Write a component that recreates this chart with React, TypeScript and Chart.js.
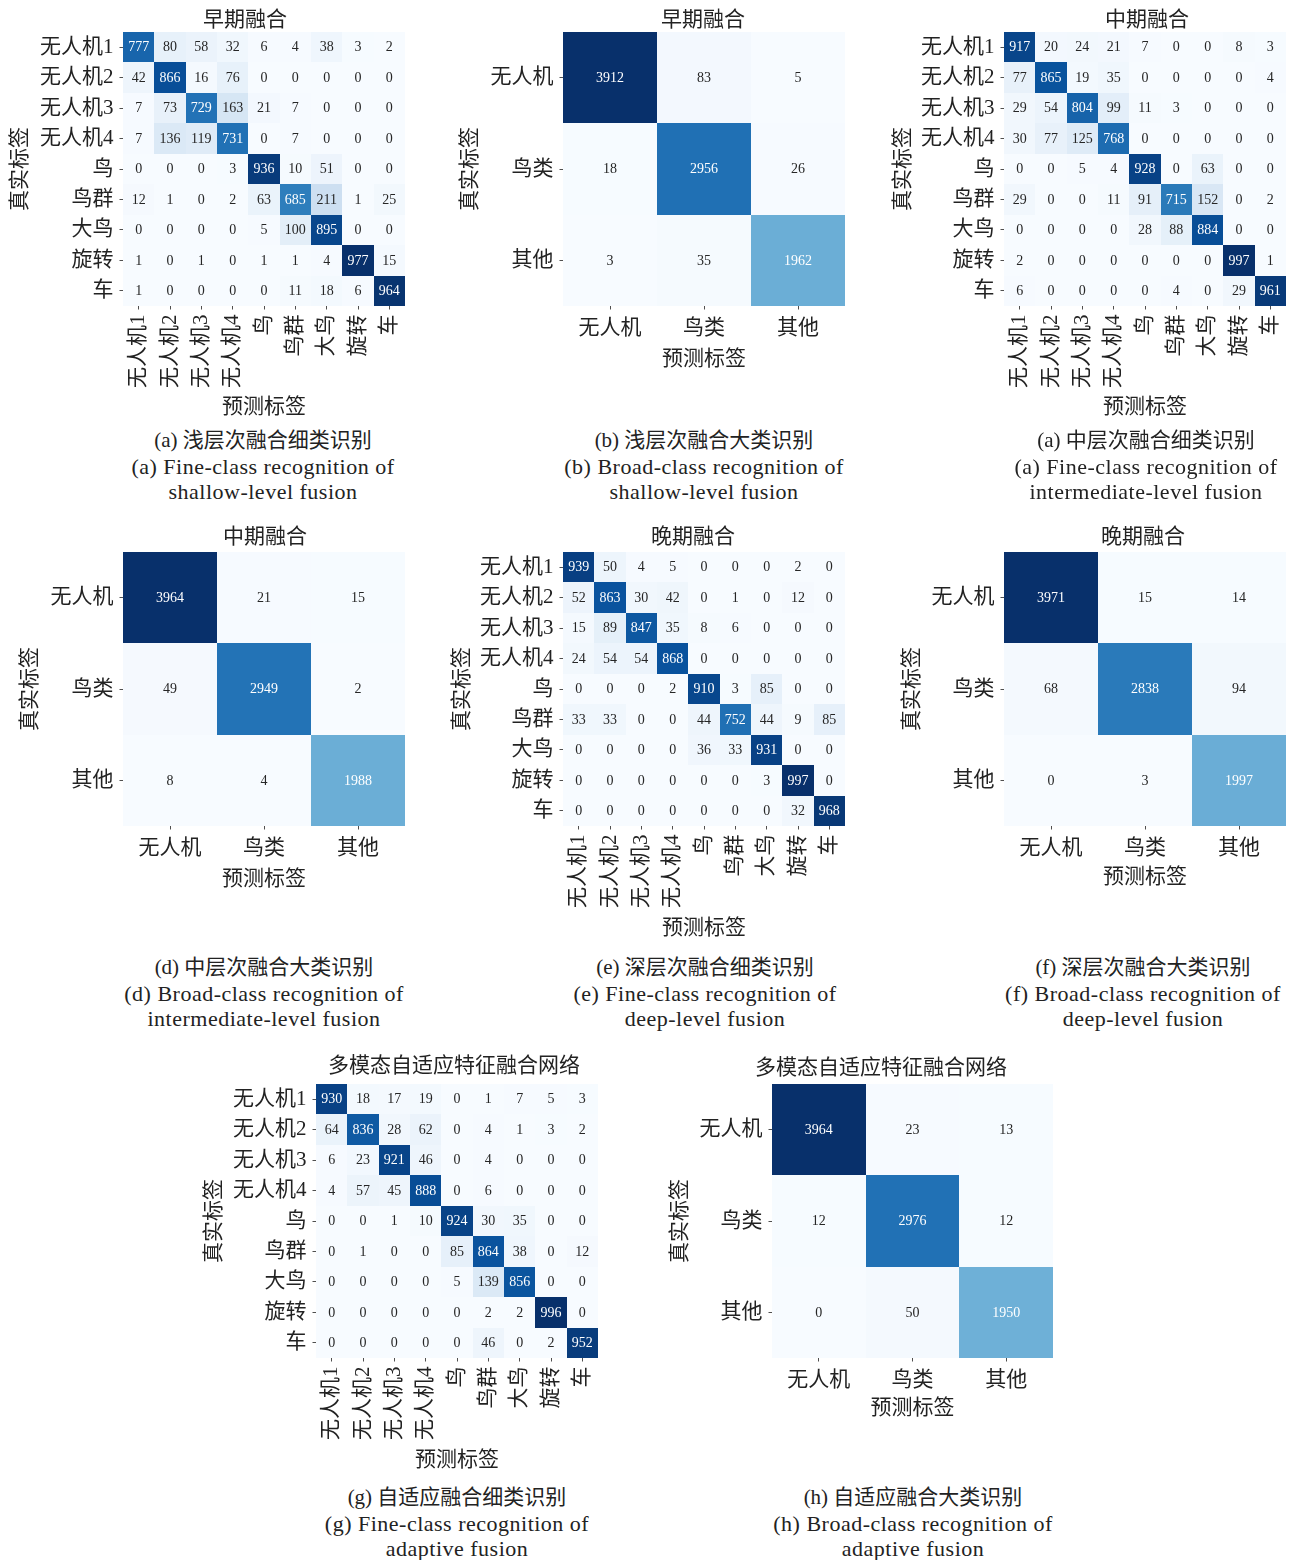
import React, { useEffect, useRef } from 'react';
import { Chart, registerables } from 'chart.js';

Chart.register(...registerables);

const FONT = "'Liberation Serif', 'Noto Sans CJK SC', serif";
const INK = '#222222';
const LABEL_SIZE = 21;
// CJK glyphs sit a little above the serif "middle" baseline; anchors are nudged by this much.
const GLYPH_SHIFT = 2.5;

// ---- class labels ----
const FINE_LABELS = ['无人机1', '无人机2', '无人机3', '无人机4', '鸟', '鸟群', '大鸟', '旋转', '车'];
const BROAD_LABELS = ['无人机', '鸟类', '其他'];
const X_AXIS_TITLE = '预测标签';
const Y_AXIS_TITLE = '真实标签';

// ---- confusion matrices (rows: true class, columns: predicted class) ----
const shallowFine = [
  [777, 80, 58, 32, 6, 4, 38, 3, 2],
  [42, 866, 16, 76, 0, 0, 0, 0, 0],
  [7, 73, 729, 163, 21, 7, 0, 0, 0],
  [7, 136, 119, 731, 0, 7, 0, 0, 0],
  [0, 0, 0, 3, 936, 10, 51, 0, 0],
  [12, 1, 0, 2, 63, 685, 211, 1, 25],
  [0, 0, 0, 0, 5, 100, 895, 0, 0],
  [1, 0, 1, 0, 1, 1, 4, 977, 15],
  [1, 0, 0, 0, 0, 11, 18, 6, 964],
];
const shallowBroad = [
  [3912, 83, 5],
  [18, 2956, 26],
  [3, 35, 1962],
];
const middleFine = [
  [917, 20, 24, 21, 7, 0, 0, 8, 3],
  [77, 865, 19, 35, 0, 0, 0, 0, 4],
  [29, 54, 804, 99, 11, 3, 0, 0, 0],
  [30, 77, 125, 768, 0, 0, 0, 0, 0],
  [0, 0, 5, 4, 928, 0, 63, 0, 0],
  [29, 0, 0, 11, 91, 715, 152, 0, 2],
  [0, 0, 0, 0, 28, 88, 884, 0, 0],
  [2, 0, 0, 0, 0, 0, 0, 997, 1],
  [6, 0, 0, 0, 0, 4, 0, 29, 961],
];
const middleBroad = [
  [3964, 21, 15],
  [49, 2949, 2],
  [8, 4, 1988],
];
const deepFine = [
  [939, 50, 4, 5, 0, 0, 0, 2, 0],
  [52, 863, 30, 42, 0, 1, 0, 12, 0],
  [15, 89, 847, 35, 8, 6, 0, 0, 0],
  [24, 54, 54, 868, 0, 0, 0, 0, 0],
  [0, 0, 0, 2, 910, 3, 85, 0, 0],
  [33, 33, 0, 0, 44, 752, 44, 9, 85],
  [0, 0, 0, 0, 36, 33, 931, 0, 0],
  [0, 0, 0, 0, 0, 0, 3, 997, 0],
  [0, 0, 0, 0, 0, 0, 0, 32, 968],
];
const deepBroad = [
  [3971, 15, 14],
  [68, 2838, 94],
  [0, 3, 1997],
];
const adaptiveFine = [
  [930, 18, 17, 19, 0, 1, 7, 5, 3],
  [64, 836, 28, 62, 0, 4, 1, 3, 2],
  [6, 23, 921, 46, 0, 4, 0, 0, 0],
  [4, 57, 45, 888, 0, 6, 0, 0, 0],
  [0, 0, 1, 10, 924, 30, 35, 0, 0],
  [0, 1, 0, 0, 85, 864, 38, 0, 12],
  [0, 0, 0, 0, 5, 139, 856, 0, 0],
  [0, 0, 0, 0, 0, 2, 2, 996, 0],
  [0, 0, 0, 0, 0, 46, 0, 2, 952],
];
const adaptiveBroad = [
  [3964, 23, 13],
  [12, 2976, 12],
  [0, 50, 1950],
];

// ---- panel titles and captions ----
const PANEL_TITLES = ['早期融合', '早期融合', '中期融合', '中期融合', '晚期融合', '晚期融合', '多模态自适应特征融合网络', '多模态自适应特征融合网络'];
const CAPTIONS_ZH = [
  '(a) 浅层次融合细类识别',
  '(b) 浅层次融合大类识别',
  '(a) 中层次融合细类识别',
  '(d) 中层次融合大类识别',
  '(e) 深层次融合细类识别',
  '(f) 深层次融合大类识别',
  '(g) 自适应融合细类识别',
  '(h) 自适应融合大类识别',
];
const CAPTIONS_EN_1 = [
  '(a) Fine-class recognition of',
  '(b) Broad-class recognition of',
  '(a) Fine-class recognition of',
  '(d) Broad-class recognition of',
  '(e) Fine-class recognition of',
  '(f) Broad-class recognition of',
  '(g) Fine-class recognition of',
  '(h) Broad-class recognition of',
];
const CAPTIONS_EN_2 = [
  'shallow-level fusion',
  'shallow-level fusion',
  'intermediate-level fusion',
  'intermediate-level fusion',
  'deep-level fusion',
  'deep-level fusion',
  'adaptive fusion',
  'adaptive fusion',
];
const MATRICES = [shallowFine, shallowBroad, middleFine, middleBroad, deepFine, deepBroad, adaptiveFine, adaptiveBroad];

// ---- page layout: cell area box, axis band sizes, title anchor, caption anchor ----
type Layout = {
  L: number; T: number; R: number; B: number;
  yW: number; xH: number;
  titleX: number; titleY: number;
  capX: number; capY: number;
};
const LAYOUTS: Layout[] = [
  { L: 123, T: 32, R: 405, B: 306, yW: 117, xH: 114, titleX: 245, titleY: 18, capX: 263, capY: 440 },
  { L: 563, T: 32, R: 845, B: 306, yW: 107, xH: 66, titleX: 703, titleY: 18, capX: 704, capY: 440 },
  { L: 1004, T: 32, R: 1286, B: 306, yW: 115, xH: 114, titleX: 1147, titleY: 18, capX: 1146, capY: 440 },
  { L: 123, T: 552, R: 405, B: 826, yW: 107, xH: 66, titleX: 265, titleY: 535, capX: 264, capY: 967 },
  { L: 563, T: 552, R: 845, B: 826, yW: 115, xH: 115, titleX: 693, titleY: 535, capX: 705, capY: 967 },
  { L: 1004, T: 552, R: 1286, B: 826, yW: 106, xH: 64, titleX: 1143, titleY: 535, capX: 1143, capY: 967 },
  { L: 316, T: 1084, R: 598, B: 1358, yW: 116, xH: 115, titleX: 454, titleY: 1064, capX: 457, capY: 1497 },
  { L: 772, T: 1084, R: 1053, B: 1358, yW: 106, xH: 63, titleX: 881, titleY: 1066, capX: 913, capY: 1497 },
];

// ---- matplotlib "Blues" colormap ----
const BLUES = ['#f7fbff', '#deebf7', '#c6dbef', '#9ecae1', '#6baed6', '#4292c6', '#2171b5', '#08519c', '#08306b'];

function hexToRgb(h: string): number[] {
  return [parseInt(h.slice(1, 3), 16), parseInt(h.slice(3, 5), 16), parseInt(h.slice(5, 7), 16)];
}
const BLUES_RGB = BLUES.map(hexToRgb);

function bluesAt(t: number): number[] {
  const c = Math.max(0, Math.min(1, t)) * (BLUES_RGB.length - 1);
  const i = Math.min(Math.floor(c), BLUES_RGB.length - 2);
  const f = c - i;
  const a = BLUES_RGB[i];
  const b = BLUES_RGB[i + 1];
  return [0, 1, 2].map((k) => a[k] + (b[k] - a[k]) * f);
}

function luminance(rgb: number[]): number {
  const lin = rgb.map((v) => {
    const s = v / 255;
    return s <= 0.03928 ? s / 12.92 : Math.pow((s + 0.055) / 1.055, 2.4);
  });
  return 0.2126 * lin[0] + 0.7152 * lin[1] + 0.0722 * lin[2];
}

// Paints every cell of the matrix and its count, positioned by the category scales.
const heatmapCells = {
  id: 'heatmapCells',
  beforeDatasetsDraw(chart: any) {
    const { ctx } = chart;
    const xs = chart.scales.x;
    const ys = chart.scales.y;
    const ds = chart.data.datasets[0];
    const pts = ds.data as { x: string; y: string; v: number }[];
    const values = pts.map((p) => p.v);
    const vmin = Math.min(...values);
    const vmax = Math.max(...values);
    const nx = xs.getLabels().length;
    const ny = ys.getLabels().length;
    const cw = xs.width / nx;
    const ch = ys.height / ny;
    const meta = chart.getDatasetMeta(0);

    ctx.save();
    const cells = pts.map((p, i) => {
      const el = meta.data[i];
      const rgb = bluesAt((p.v - vmin) / (vmax - vmin));
      const x0 = Math.round(el.x - cw / 2);
      const x1 = Math.round(el.x + cw / 2);
      const y0 = Math.round(el.y - ch / 2);
      const y1 = Math.round(el.y + ch / 2);
      ctx.fillStyle = `rgb(${rgb[0].toFixed(0)},${rgb[1].toFixed(0)},${rgb[2].toFixed(0)})`;
      ctx.fillRect(x0, y0, x1 - x0, y1 - y0);
      return { x: el.x, y: el.y, v: p.v, rgb };
    });
    ctx.font = `14px ${FONT}`;
    ctx.textAlign = 'center';
    ctx.textBaseline = 'middle';
    cells.forEach((c) => {
      ctx.fillStyle = luminance(c.rgb) > 0.408 ? '#262626' : '#ffffff';
      ctx.fillText(String(c.v), c.x, c.y + 0.5);
    });
    ctx.restore();
  },
};

type PanelProps = { index: number };

function Heatmap({ index }: PanelProps) {
  const ref = useRef<HTMLCanvasElement>(null);
  const matrix = MATRICES[index];
  const labels = matrix.length === FINE_LABELS.length ? FINE_LABELS : BROAD_LABELS;
  const fine = labels === FINE_LABELS;
  const lay = LAYOUTS[index];
  const titleLine = LABEL_SIZE;
  const titlePadTop = 4;
  const titlePadBottom = lay.T - lay.titleY - GLYPH_SHIFT - titleLine / 2;
  const left = lay.L - lay.yW;
  const top = Math.round(lay.T - (titlePadTop + titleLine + titlePadBottom));
  const rightW = 2 * lay.titleX - left - lay.R;
  const width = lay.R - left + rightW;
  const height = lay.B - top + lay.xH;
  const padTopFix = lay.T - top - (titlePadTop + titleLine + titlePadBottom);

  useEffect(() => {
    const cells = matrix.flatMap((row, i) => row.map((v, j) => ({ x: labels[j], y: labels[i], v })));
    const tickFont = { family: FONT, size: LABEL_SIZE, weight: 'normal' as const, lineHeight: 1.2 };
    const gridOpts = {
      display: true,
      drawOnChartArea: false,
      drawTicks: true,
      tickLength: 3.5,
      tickWidth: 0.8,
      tickColor: INK,
      offset: false,
    };
    const chart = new Chart(ref.current as HTMLCanvasElement, {
      type: 'scatter',
      data: {
        datasets: [
          {
            data: cells as any,
            pointRadius: 0,
            pointHoverRadius: 0,
            xAxisID: 'x',
            yAxisID: 'y',
          },
        ],
      },
      options: {
        responsive: false,
        animation: false,
        devicePixelRatio: 1,
        events: [],
        layout: { padding: 0 },
        plugins: {
          legend: { display: false },
          tooltip: { enabled: false },
          title: {
            display: true,
            text: PANEL_TITLES[index],
            color: INK,
            font: { family: FONT, size: LABEL_SIZE, weight: 'normal', lineHeight: 1 },
            padding: { top: titlePadTop + padTopFix, bottom: titlePadBottom },
          },
        },
        scales: {
          x: {
            type: 'category',
            labels,
            offset: true,
            position: 'bottom',
            grid: gridOpts,
            border: { display: false },
            ticks: {
              color: INK,
              font: tickFont,
              padding: fine ? 5 : 6.5,
              autoSkip: false,
              minRotation: fine ? 90 : 0,
              maxRotation: fine ? 90 : 0,
            },
            title: { display: true, text: X_AXIS_TITLE, color: INK, font: tickFont, padding: 0 },
            afterFit: (s: any) => {
              s.height = lay.xH;
            },
          },
          y: {
            type: 'category',
            labels,
            offset: true,
            position: 'left',
            grid: gridOpts,
            border: { display: false },
            ticks: { color: INK, font: tickFont, padding: 6, autoSkip: false },
            title: {
              display: true,
              text: Y_AXIS_TITLE,
              color: INK,
              font: tickFont,
              padding: { top: 2, bottom: 0 },
            },
            afterFit: (s: any) => {
              s.width = lay.yW;
            },
          },
          yr: {
            type: 'linear',
            position: 'right',
            display: true,
            grid: { display: false },
            border: { display: false },
            ticks: { display: false },
            afterFit: (s: any) => {
              s.width = rightW;
            },
          },
        },
      } as any,
      plugins: [heatmapCells],
    });
    return () => chart.destroy();
  }, []);

  return (
    <canvas
      ref={ref}
      width={width}
      height={height}
      style={{ position: 'absolute', left, top, width, height }}
    />
  );
}

function Caption({ index }: PanelProps) {
  const lay = LAYOUTS[index];
  const line = (text: string, cy: number, size: number, spacing: number) => (
    <div
      style={{
        position: 'absolute',
        left: lay.capX - 250,
        top: cy - 15,
        width: 500,
        height: 30,
        lineHeight: '30px',
        textAlign: 'center',
        whiteSpace: 'nowrap',
        fontFamily: FONT,
        fontSize: size,
        letterSpacing: spacing,
        color: INK,
      }}
    >
      {text}
    </div>
  );
  return (
    <>
      {line(CAPTIONS_ZH[index], lay.capY, 21, 0)}
      {line(CAPTIONS_EN_1[index], lay.capY + 27, 22, 0.5)}
      {line(CAPTIONS_EN_2[index], lay.capY + 52, 22, 0.5)}
    </>
  );
}

export default function App() {
  return (
    <div
      style={{
        position: 'absolute',
        left: 0,
        top: 0,
        width: 1293,
        height: 1560,
        overflow: 'hidden',
        background: '#ffffff',
      }}
    >
      {MATRICES.map((_, i) => (
        <Heatmap key={`h${i}`} index={i} />
      ))}
      {MATRICES.map((_, i) => (
        <Caption key={`c${i}`} index={i} />
      ))}
    </div>
  );
}
